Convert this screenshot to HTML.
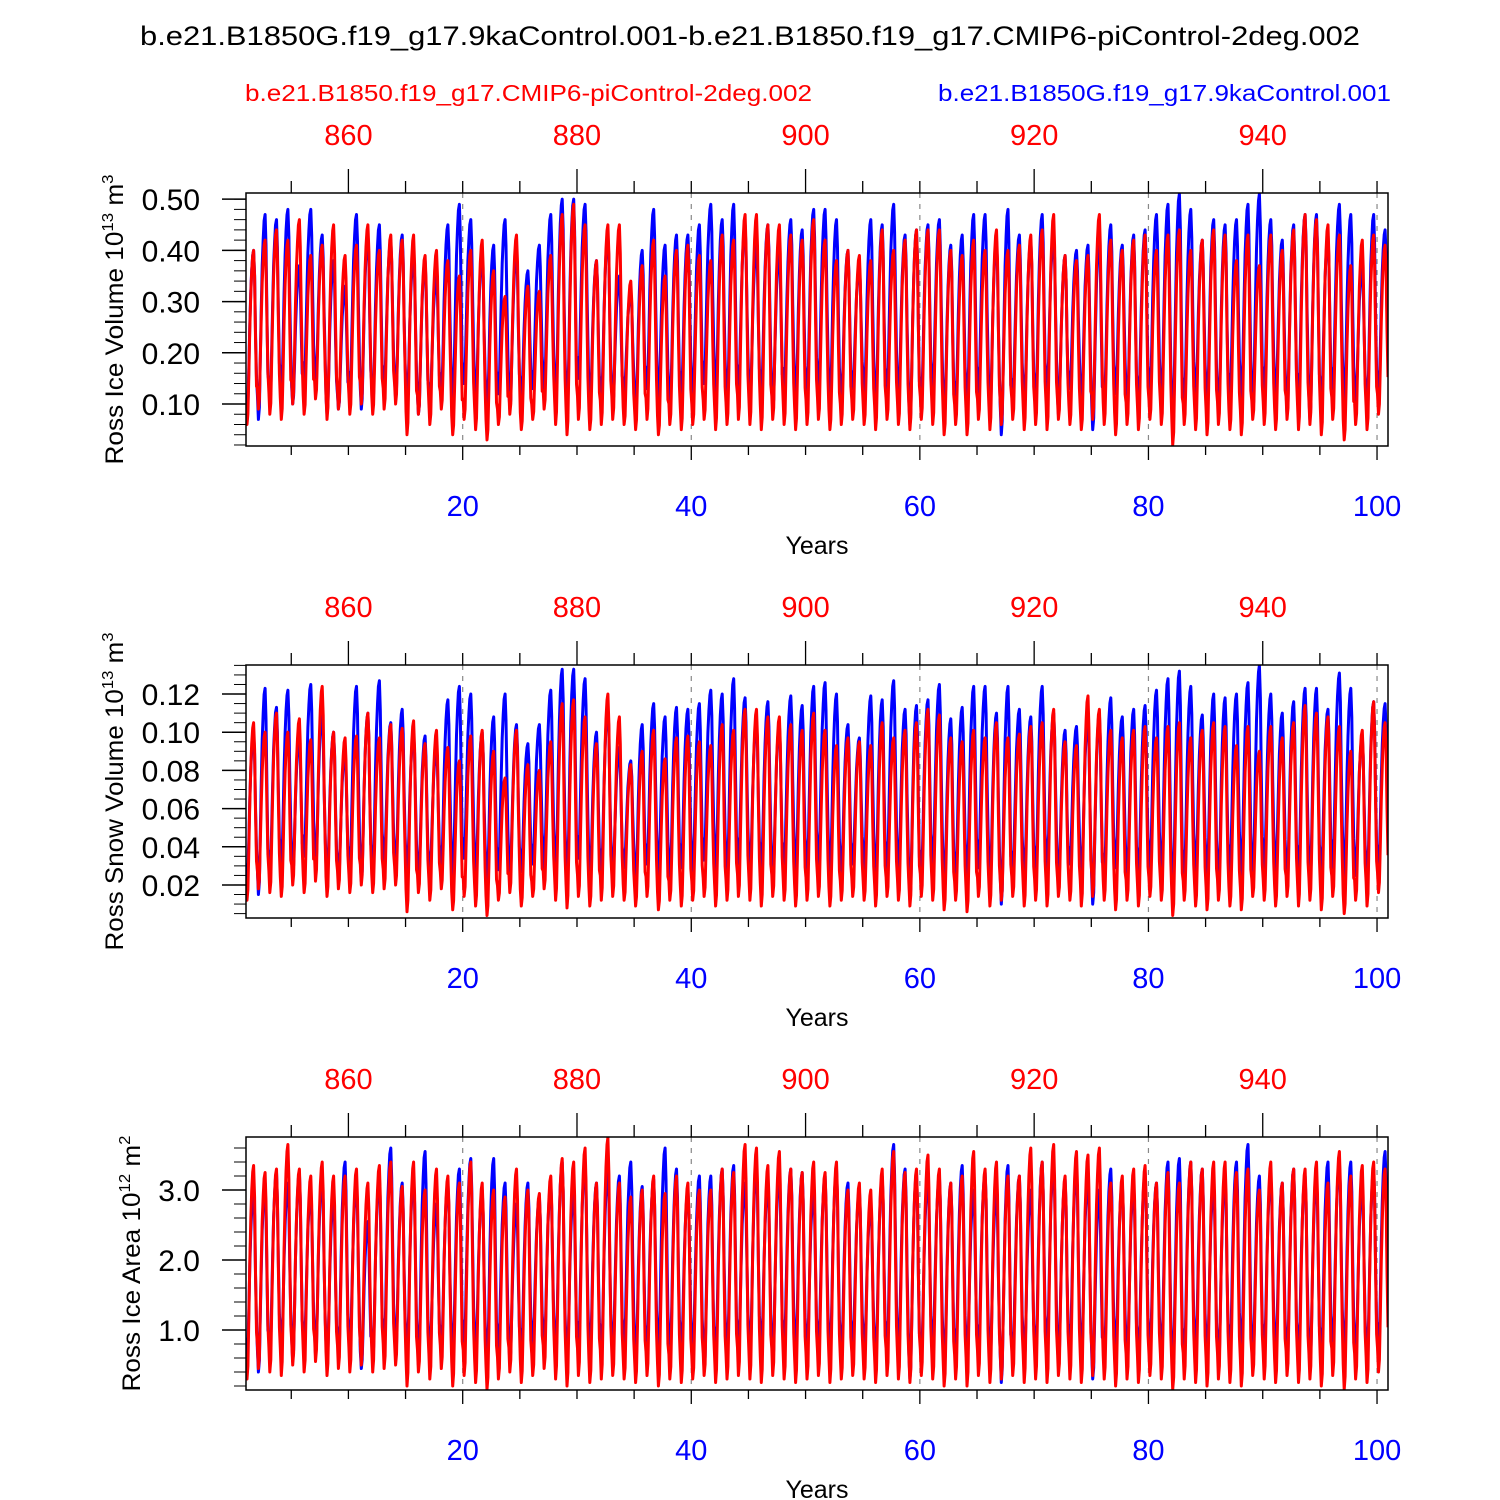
<!DOCTYPE html>
<html><head><meta charset="utf-8"><style>
html,body{margin:0;padding:0;background:#fff}
svg{display:block;font-family:"Liberation Sans",Arial,sans-serif}
</style></head><body>
<svg id="chart" width="1500" height="1500" viewBox="0 0 1500 1500">
<text x="140" y="45" font-size="27" textLength="1220" lengthAdjust="spacingAndGlyphs">b.e21.B1850G.f19_g17.9kaControl.001-b.e21.B1850.f19_g17.CMIP6-piControl-2deg.002</text>
<text x="245" y="101" font-size="23" fill="#ff0000" textLength="567" lengthAdjust="spacingAndGlyphs">b.e21.B1850.f19_g17.CMIP6-piControl-2deg.002</text>
<text x="938" y="101" font-size="23" fill="#0000ff" textLength="453" lengthAdjust="spacingAndGlyphs">b.e21.B1850G.f19_g17.9kaControl.001</text>
</svg>
<script>
// Annual peaks/troughs (year 1..100)
const iceBlueMax=[0.40,0.47,0.46,0.48,0.37,0.48,0.43,0.38,0.33,0.47,0.43,0.45,0.42,0.43,0.39,0.38,0.35,0.45,0.49,0.46,0.39,0.41,0.46,0.40,0.36,0.41,0.47,0.50,0.50,0.49,0.38,0.43,0.35,0.32,0.40,0.48,0.41,0.43,0.43,0.45,0.49,0.46,0.49,0.45,0.41,0.45,0.40,0.46,0.44,0.48,0.48,0.46,0.40,0.37,0.46,0.45,0.49,0.43,0.44,0.45,0.46,0.41,0.43,0.47,0.47,0.42,0.48,0.43,0.42,0.47,0.43,0.39,0.40,0.41,0.43,0.45,0.41,0.43,0.44,0.47,0.49,0.51,0.48,0.42,0.46,0.45,0.46,0.49,0.51,0.46,0.42,0.45,0.47,0.47,0.43,0.49,0.47,0.37,0.47,0.44];
const iceBlueMin=[0.08,0.07,0.10,0.12,0.10,0.14,0.13,0.08,0.09,0.12,0.09,0.10,0.13,0.11,0.10,0.08,0.10,0.12,0.09,0.14,0.10,0.08,0.12,0.09,0.11,0.13,0.12,0.10,0.08,0.15,0.09,0.11,0.10,0.12,0.08,0.13,0.10,0.09,0.12,0.10,0.14,0.11,0.09,0.13,0.10,0.12,0.09,0.13,0.10,0.11,0.12,0.09,0.10,0.13,0.11,0.09,0.12,0.10,0.06,0.11,0.12,0.07,0.10,0.09,0.12,0.08,0.04,0.11,0.09,0.10,0.12,0.08,0.13,0.09,0.05,0.10,0.12,0.08,0.10,0.11,0.09,0.05,0.10,0.11,0.09,0.08,0.11,0.10,0.08,0.12,0.10,0.08,0.11,0.07,0.10,0.12,0.09,0.10,0.08,0.12];
const iceRedMax=[0.40,0.42,0.44,0.42,0.46,0.39,0.41,0.45,0.39,0.41,0.45,0.40,0.43,0.42,0.43,0.39,0.40,0.38,0.35,0.40,0.42,0.36,0.31,0.43,0.33,0.32,0.39,0.47,0.49,0.45,0.38,0.45,0.45,0.34,0.37,0.42,0.35,0.40,0.41,0.39,0.38,0.43,0.42,0.47,0.47,0.45,0.45,0.43,0.42,0.46,0.42,0.38,0.40,0.39,0.38,0.44,0.40,0.42,0.44,0.44,0.44,0.40,0.39,0.42,0.40,0.44,0.40,0.41,0.43,0.44,0.47,0.39,0.38,0.39,0.47,0.42,0.40,0.42,0.43,0.40,0.43,0.44,0.40,0.42,0.44,0.43,0.38,0.43,0.37,0.43,0.40,0.44,0.47,0.46,0.45,0.43,0.37,0.42,0.43,0.41];
const iceRedMin=[0.06,0.09,0.08,0.07,0.10,0.08,0.11,0.07,0.09,0.08,0.10,0.08,0.09,0.10,0.04,0.08,0.06,0.09,0.04,0.07,0.05,0.03,0.06,0.08,0.05,0.07,0.09,0.06,0.04,0.07,0.05,0.06,0.07,0.06,0.05,0.07,0.04,0.06,0.05,0.06,0.07,0.05,0.06,0.07,0.06,0.05,0.07,0.06,0.05,0.06,0.07,0.05,0.06,0.07,0.06,0.05,0.07,0.06,0.05,0.07,0.06,0.04,0.06,0.04,0.07,0.05,0.06,0.07,0.05,0.06,0.05,0.07,0.06,0.05,0.07,0.06,0.04,0.06,0.05,0.07,0.06,0.02,0.06,0.05,0.04,0.06,0.05,0.04,0.07,0.06,0.05,0.07,0.05,0.06,0.04,0.07,0.03,0.06,0.05,0.08];
const snowBlueMax=[0.100,0.123,0.113,0.122,0.098,0.125,0.110,0.100,0.090,0.124,0.110,0.127,0.105,0.112,0.100,0.098,0.092,0.117,0.124,0.120,0.100,0.108,0.120,0.104,0.094,0.104,0.122,0.133,0.133,0.128,0.100,0.113,0.092,0.085,0.104,0.115,0.108,0.113,0.112,0.115,0.122,0.120,0.128,0.118,0.106,0.116,0.104,0.119,0.114,0.124,0.126,0.120,0.104,0.097,0.119,0.117,0.127,0.112,0.114,0.117,0.125,0.107,0.113,0.124,0.124,0.110,0.124,0.112,0.108,0.124,0.110,0.101,0.103,0.108,0.110,0.118,0.108,0.112,0.114,0.122,0.128,0.132,0.124,0.109,0.120,0.118,0.120,0.126,0.135,0.120,0.110,0.116,0.123,0.123,0.112,0.131,0.123,0.098,0.116,0.115];
const snowBlueMin=[0.022,0.015,0.025,0.030,0.026,0.035,0.030,0.022,0.024,0.028,0.022,0.025,0.031,0.027,0.025,0.022,0.026,0.029,0.022,0.034,0.025,0.020,0.028,0.022,0.027,0.031,0.029,0.025,0.020,0.034,0.022,0.027,0.025,0.029,0.020,0.031,0.025,0.022,0.029,0.025,0.033,0.027,0.022,0.031,0.025,0.029,0.022,0.031,0.025,0.027,0.029,0.022,0.025,0.031,0.027,0.022,0.029,0.025,0.012,0.027,0.029,0.018,0.025,0.022,0.029,0.020,0.010,0.027,0.022,0.025,0.029,0.020,0.031,0.022,0.010,0.025,0.029,0.020,0.025,0.027,0.022,0.012,0.025,0.027,0.022,0.020,0.027,0.025,0.020,0.029,0.025,0.020,0.027,0.018,0.025,0.029,0.022,0.025,0.020,0.029];
const snowRedMax=[0.105,0.100,0.110,0.100,0.107,0.096,0.124,0.100,0.097,0.098,0.110,0.097,0.104,0.102,0.106,0.094,0.101,0.092,0.085,0.098,0.101,0.090,0.076,0.101,0.083,0.080,0.095,0.115,0.117,0.108,0.094,0.120,0.108,0.083,0.090,0.101,0.086,0.097,0.098,0.095,0.093,0.104,0.101,0.112,0.112,0.108,0.108,0.104,0.101,0.110,0.101,0.093,0.097,0.095,0.093,0.105,0.097,0.101,0.105,0.112,0.109,0.097,0.095,0.101,0.097,0.105,0.097,0.099,0.103,0.105,0.112,0.095,0.093,0.119,0.112,0.101,0.097,0.101,0.103,0.097,0.103,0.105,0.097,0.101,0.105,0.103,0.093,0.103,0.090,0.103,0.097,0.105,0.114,0.110,0.108,0.103,0.090,0.101,0.116,0.105];
const snowRedMin=[0.012,0.018,0.016,0.014,0.020,0.016,0.022,0.014,0.018,0.016,0.020,0.016,0.018,0.020,0.006,0.016,0.012,0.018,0.007,0.014,0.009,0.004,0.012,0.016,0.009,0.014,0.018,0.012,0.008,0.014,0.009,0.012,0.014,0.012,0.009,0.014,0.007,0.012,0.009,0.012,0.014,0.009,0.012,0.014,0.012,0.009,0.014,0.012,0.009,0.012,0.014,0.009,0.012,0.014,0.012,0.009,0.014,0.012,0.009,0.014,0.012,0.007,0.012,0.006,0.014,0.009,0.012,0.014,0.009,0.012,0.009,0.014,0.012,0.009,0.014,0.012,0.007,0.012,0.009,0.014,0.012,0.004,0.012,0.009,0.007,0.012,0.009,0.007,0.014,0.012,0.009,0.014,0.009,0.012,0.007,0.014,0.005,0.012,0.009,0.016];
const areaBlueMax=[3.00,3.10,3.25,3.10,3.25,3.00,3.20,2.90,3.40,3.10,2.55,3.20,3.60,3.10,3.20,3.55,2.80,3.10,3.30,3.45,3.00,3.45,3.10,2.80,3.10,2.90,3.10,3.40,3.00,3.40,3.10,3.30,3.20,3.40,3.05,3.15,3.60,3.30,3.00,3.20,3.20,3.30,3.35,3.10,3.35,3.10,3.30,3.30,3.25,3.00,3.20,3.30,3.10,3.00,2.80,3.20,3.65,3.30,3.25,3.20,3.20,3.10,3.35,3.00,3.25,3.00,3.35,3.20,3.00,3.40,3.40,3.15,3.30,3.20,3.00,3.30,3.10,3.10,3.25,3.10,3.40,3.45,3.40,3.30,3.10,3.20,3.40,3.65,3.20,3.20,3.10,3.30,3.20,3.20,3.40,3.40,3.40,3.10,3.30,3.55];
const areaBlueMin=[0.60,0.40,0.65,0.70,0.55,0.75,0.65,0.55,0.60,0.70,0.45,0.60,0.75,0.65,0.60,0.50,0.60,0.70,0.55,0.75,0.60,0.45,0.70,0.55,0.65,0.75,0.70,0.60,0.50,0.80,0.55,0.65,0.60,0.70,0.50,0.75,0.60,0.55,0.70,0.60,0.45,0.65,0.55,0.75,0.60,0.70,0.55,0.75,0.60,0.65,0.70,0.55,0.60,0.75,0.65,0.55,0.70,0.60,0.30,0.65,0.70,0.45,0.60,0.55,0.70,0.50,0.25,0.65,0.55,0.60,0.70,0.50,0.75,0.55,0.30,0.60,0.70,0.50,0.60,0.65,0.55,0.35,0.60,0.65,0.55,0.50,0.65,0.60,0.50,0.70,0.60,0.50,0.65,0.45,0.60,0.70,0.55,0.60,0.50,0.70];
const areaRedMax=[3.35,3.25,3.30,3.65,3.30,3.20,3.40,3.20,3.20,3.30,3.10,3.35,3.40,3.05,3.40,3.00,3.30,3.20,3.10,3.40,3.10,3.00,2.90,3.30,3.00,2.95,3.20,3.45,3.40,3.60,3.10,3.75,3.10,2.90,3.00,3.20,2.95,3.20,3.10,3.00,3.00,3.30,3.25,3.65,3.60,3.35,3.55,3.30,3.25,3.40,3.25,3.40,3.00,3.10,3.00,3.30,3.55,3.25,3.30,3.50,3.30,3.10,3.20,3.55,3.30,3.40,3.20,3.20,3.60,3.40,3.65,3.20,3.55,3.50,3.60,3.10,3.20,3.30,3.35,3.10,3.25,3.10,3.40,3.30,3.40,3.40,3.25,3.30,3.00,3.40,3.10,3.30,3.30,3.40,3.10,3.55,3.20,3.35,3.40,3.30];
const areaRedMin=[0.30,0.45,0.40,0.35,0.50,0.40,0.55,0.35,0.45,0.40,0.50,0.40,0.45,0.50,0.20,0.40,0.30,0.45,0.20,0.35,0.25,0.15,0.30,0.40,0.25,0.35,0.45,0.30,0.20,0.35,0.25,0.30,0.35,0.30,0.25,0.35,0.20,0.30,0.25,0.30,0.35,0.25,0.30,0.35,0.30,0.25,0.35,0.30,0.25,0.30,0.35,0.25,0.30,0.35,0.30,0.25,0.35,0.30,0.25,0.35,0.30,0.20,0.30,0.20,0.35,0.25,0.30,0.35,0.25,0.30,0.25,0.35,0.30,0.25,0.35,0.30,0.20,0.30,0.25,0.35,0.30,0.15,0.30,0.25,0.20,0.30,0.25,0.20,0.35,0.30,0.25,0.35,0.25,0.30,0.20,0.35,0.15,0.30,0.25,0.40];
// climatological seasonal fraction (Jan..Dec) between annual min and max
const seasonShape=[0.12,0.0,0.06,0.3,0.55,0.75,0.88,0.97,1.0,0.85,0.5,0.22];

const panels=[
 {top:193,bot:446,ymin:0.018,ymax:0.512,ticks:[0.1,0.2,0.3,0.4,0.5],fmt:v=>v.toFixed(2),minor:0.02,
  label:"Ross Ice Volume",unit:"13",u2:"m",u3:"3",lx:123,tl:290,b:[iceBlueMax,iceBlueMin],r:[iceRedMax,iceRedMin],name:"ice-volume"},
 {top:665,bot:918,ymin:0.0027,ymax:0.1352,ticks:[0.02,0.04,0.06,0.08,0.10,0.12],fmt:v=>v.toFixed(2),minor:0.005,
  label:"Ross Snow Volume",unit:"13",u2:"m",u3:"3",lx:123,tl:318,b:[snowBlueMax,snowBlueMin],r:[snowRedMax,snowRedMin],name:"snow-volume"},
 {top:1137,bot:1390,ymin:0.143,ymax:3.757,ticks:[1,2,3],fmt:v=>v.toFixed(1),minor:0.2,
  label:"Ross Ice Area",unit:"12",u2:"m",u3:"2",lx:140,tl:256,b:[areaBlueMax,areaBlueMin],r:[areaRedMax,areaRedMin],name:"ice-area"}
];
const svg=document.getElementById('chart');
const NS="http://www.w3.org/2000/svg";
const X0=246,X1=1388,T0=1.04,T1=100.96;
const xs=t=>X0+(t-T0)/(T1-T0)*(X1-X0);
function mk(tag,attrs,parent){const e=document.createElementNS(NS,tag);for(const k in attrs)e.setAttribute(k,attrs[k]);(parent||svg).appendChild(e);return e;}
function series(mx,mn){const out=[];for(let y=0;y<mx.length;y++){for(let m=0;m<12;m++){const lo=mn[y];out.push({t:y+1+(m+0.5)/12,v:lo+(mx[y]-lo)*seasonShape[m]});}}return out;}
panels.forEach((p,i)=>{
 const ys=v=>p.bot-(v-p.ymin)/(p.ymax-p.ymin)*(p.bot-p.top);
 const g=mk('g',{});
 
 
 [20,40,60,80,100].forEach(v=>{const l=mk('line',{x1:xs(v),x2:xs(v),y1:p.top,y2:p.bot,stroke:'#888','stroke-width':1.2,'stroke-dasharray':'5,6'},g);
  });
 const clip=mk('clipPath',{id:'c'+i},g);mk('rect',{x:X0,y:p.top,width:X1-X0,height:p.bot-p.top},clip);
 [[p.b,'#0000ff','blue'],[p.r,'#ff0000','red']].forEach(([d,c,n])=>{
  const pts=series(d[0],d[1]);
  const path=mk('path',{d:'M'+pts.map(q=>xs(q.t).toFixed(1)+','+ys(q.v).toFixed(1)).join('L'),fill:'none',stroke:c,'stroke-width':3,'stroke-linejoin':'round','clip-path':'url(#c'+i+')'},g);
  
  
 });
 mk('rect',{x:X0,y:p.top,width:X1-X0,height:p.bot-p.top,fill:'none',stroke:'#000','stroke-width':1.5},g);
 for(let v=Math.ceil(p.ymin/p.minor)*p.minor;v<=p.ymax;v+=p.minor){mk('line',{x1:234,x2:X0,y1:ys(v),y2:ys(v),stroke:'#000','stroke-width':1},g);}
 p.ticks.forEach(v=>{mk('line',{x1:222,x2:X0,y1:ys(v),y2:ys(v),stroke:'#000','stroke-width':1.5},g);
  const t=mk('text',{x:200,y:ys(v)+11,'font-size':30,'text-anchor':'end'},g);t.textContent=p.fmt(v);
  });
 for(let v=5;v<=100;v+=5){const x=xs(v);const maj=v%20===0;
  mk('line',{x1:x,x2:x,y1:p.bot,y2:p.bot+(maj?14:9),stroke:'#000','stroke-width':1.3},g);
  const top=v+850;const tmaj=(top-860)%20===0;
  mk('line',{x1:x,x2:x,y1:p.top,y2:p.top-(tmaj?24:12),stroke:'#000','stroke-width':1.3},g);
  if(maj){const t=mk('text',{x:x,y:p.bot+70,'text-anchor':'middle','font-size':29,fill:'#0000ff'},g);t.textContent=v;
   }
  if(tmaj){const t=mk('text',{x:x,y:p.top-48,'text-anchor':'middle','font-size':29,fill:'#ff0000'},g);t.textContent=top;
   }
 }
 const xt=mk('text',{x:817,y:p.bot+108,'text-anchor':'middle','font-size':25},g);xt.textContent='Years';
 
 const cy=(p.top+p.bot)/2;
 const yt=mk('text',{x:0,y:0,'text-anchor':'middle','font-size':25,textLength:p.tl,lengthAdjust:'spacingAndGlyphs',transform:`translate(${p.lx},${cy}) rotate(-90)`},g);
 yt.innerHTML=p.label+' 10<tspan font-size="16" dy="-10">'+p.unit+'</tspan><tspan dy="10"> '+p.u2+'</tspan><tspan font-size="16" dy="-10">'+p.u3+'</tspan>';
 
});
</script>
</body></html>
